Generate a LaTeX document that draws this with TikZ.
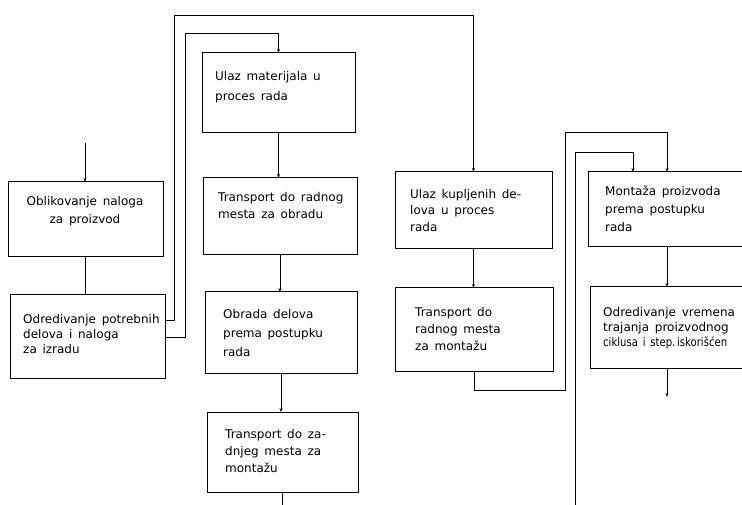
\documentclass[tikz,border=0pt]{standalone}
\usepackage{fontspec}
\setmainfont{DejaVu Sans}[WordSpace=1.5]
\usetikzlibrary{arrows.meta,calc}
\tikzset{
  box/.style={draw, line width=1pt, anchor=north west, inner sep=0pt, outer sep=0pt},
  conn/.style={line width=0.8pt},
  arr/.style={conn, -{Stealth[length=4pt,width=3pt]}},
  txt/.style={anchor=north west, inner sep=0pt, align=left, font=\fontsize{12}{17}\selectfont},
}
\begin{document}
\begin{tikzpicture}[x=1pt,y=-1pt]
\useasboundingbox (0,0) rectangle (742,505);
% boxes
\node[box, minimum width=155pt, minimum height=75pt] (b1) at (8,182) {};
\node[box, minimum width=155pt, minimum height=83pt] (b2) at (10,295) {};
\node[box, minimum width=153pt, minimum height=80pt] (b3) at (202,53) {};
\node[box, minimum width=154pt, minimum height=77pt] (b4) at (203,178) {};
\node[box, minimum width=152pt, minimum height=81pt] (b5) at (205,292) {};
\node[box, minimum width=151pt, minimum height=80pt] (b6) at (207,412) {};
\node[box, minimum width=157pt, minimum height=77pt] (b7) at (395,172) {};
\node[box, minimum width=158pt, minimum height=83pt] (b8) at (395,288) {};
\node[box, minimum width=172pt, minimum height=75pt] (b9) at (588,172) {};
\node[box, minimum width=170pt, minimum height=81pt] (b10) at (590,287) {};
% texts
\node[txt, anchor=north, align=center, font=\fontsize{12}{18}\selectfont] (t1) at (85,196) {Oblikovanje naloga\\za proizvod};
\node[txt, font=\fontsize{12}{15}\selectfont] (t2) at (23,314) {Odredivanje potrebnih\\delova i naloga\\za izradu};
\node[txt, font=\fontsize{12}{20}\selectfont] (t3) at (215,71) {Ulaz materijala u\\proces rada};
\node[txt] (t4) at (218,192) {Transport do radnog\\mesta za obradu};
\node[txt, font=\fontsize{12}{19}\selectfont] (t5) at (223,309) {Obrada delova\\prema postupku\\rada};
\node[txt] (t6) at (225,429) {Transport do za-\\dnjeg mesta za\\montažu};
\node[txt, font=\fontsize{12}{16.5}\selectfont] (t7) at (410,189) {Ulaz kupljenih de-\\lova u proces\\rada};
\node[txt] (t8) at (415,307) {Transport do\\radnog mesta\\za montažu};
\node[txt, font=\fontsize{12}{18}\selectfont] (t9) at (605,186) {Montaža proizvoda\\prema postupku\\rada};
\node[txt, font=\fontsize{12}{15}\selectfont] (t10) at (603,307) {Odredivanje vremena\\trajanja proizvodnog\\\scalebox{0.84}[1]{ciklusa i step.\,iskorišćen}};
% helper coordinates
\coordinate (in1) at (85,143);
\coordinate (b9a) at ($(b9.north west)+(45,0)$);
\coordinate (b9b) at ($(b9.north west)+(79,0)$);
\coordinate (in9) at (575,505);
\coordinate (out6) at (b6.south |- 0,505);
\coordinate (out10) at ($(b9b |- b10.south)+(0,29)$);
% connectors
\draw[arr] (in1) -- (in1 |- b1.north);
\draw[conn] (b1.south) -- (b1.south |- b2.north);
\draw[arr] (b2.east |- 0,320) -| (174,15) -| (b7.north);
\draw[arr] (b2.east |- 0,337) -| (185,33) -| (b3.north);
\draw[arr] (b3.south) -- (b3.south |- b4.north);
\draw[arr] (b4.south) -- (b4.south |- b5.north);
\draw[arr] (b5.south) -- (b5.south |- b6.north);
\draw[conn] (b6.south) -- (out6);
\draw[arr] (b7.south) -- (b7.south |- b8.north);
\draw[arr] (b8.south) -- ++(0,19) -| (565,132) -| (b9b);
\draw[arr] (in9) |- (b9a |- 0,152) -- (b9a);
\draw[arr] (b9b |- b9.south) -- (b9b |- b10.north);
\draw[arr] (b9b |- b10.south) -- (out10);
\end{tikzpicture}
\end{document}
